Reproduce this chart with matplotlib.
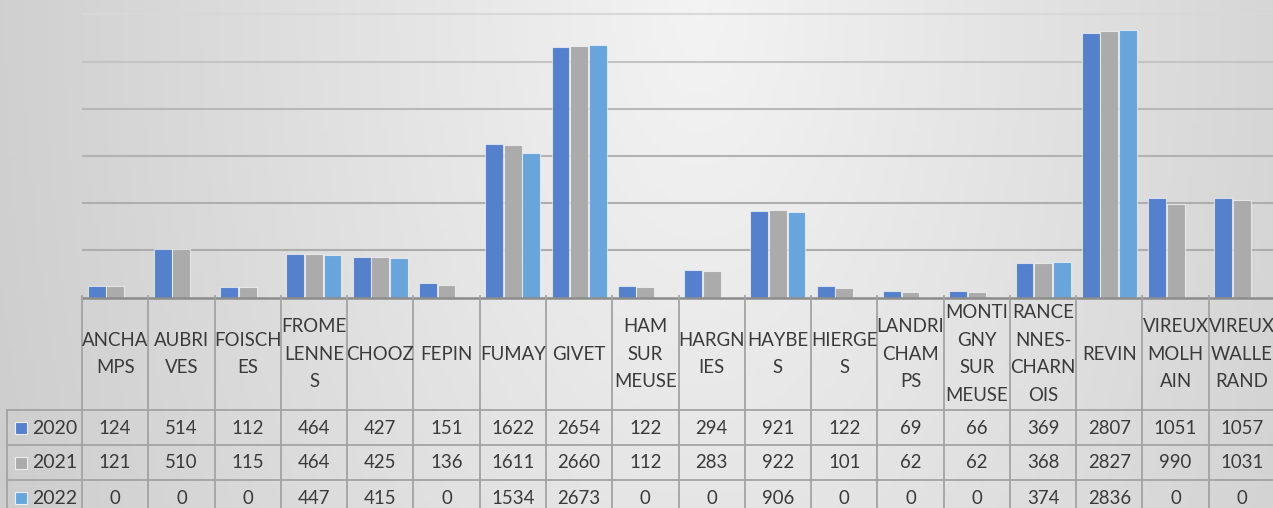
import numpy as np
import matplotlib
matplotlib.use("Agg")
import matplotlib.pyplot as plt

categories = ["ANCHA\nMPS", "AUBRI\nVES", "FOISCH\nES", "FROME\nLENNE\nS", "CHOOZ", "FEPIN",
              "FUMAY", "GIVET", "HAM\nSUR\nMEUSE", "HARGN\nIES", "HAYBE\nS", "HIERGE\nS",
              "LANDRI\nCHAM\nPS", "MONTI\nGNY\nSUR\nMEUSE", "RANCE\nNNES-\nCHARN\nOIS", "REVIN",
              "VIREUX\nMOLH\nAIN", "VIREUX\nWALLE\nRAND"]
series_names = ["2020", "2021", "2022"]
v2020 = [124, 514, 112, 464, 427, 151, 1622, 2654, 122, 294, 921, 122, 69, 66, 369, 2807, 1051, 1057]
v2021 = [121, 510, 115, 464, 425, 136, 1611, 2660, 112, 283, 922, 101, 62, 62, 368, 2827, 990, 1031]
v2022 = [0, 0, 0, 447, 415, 0, 1534, 2673, 0, 0, 906, 0, 0, 0, 374, 2836, 0, 0]
series = [v2020, v2021, v2022]
colors = ["#5580CC", "#ABABAB", "#69A4DB"]
grid_levels = [500, 1000, 1500, 2000, 2500, 3000]
grid_colors = ["#ADADAD", "#AEAEAE", "#B2B2B2", "#B8B8B8", "#C4C4C4", "#D8D8D8"]

W, H = 1273, 508
fig = plt.figure(figsize=(W / 100, H / 100), dpi=100)

# background gradient
bg = fig.add_axes([0, 0, 1, 1], zorder=-10)
xx, yy = np.meshgrid(np.linspace(0, W, 300), np.linspace(0, H, 120))
d = np.sqrt(((xx - 700) / 700) ** 2 + 0.15 * (yy / H) ** 2)
val = 0.955 - 0.14 * d
bg.imshow(np.dstack([val, val, val]), extent=[0, W, H, 0], aspect="auto")
bg.set_xlim(0, W)
bg.set_ylim(H, 0)
bg.axis("off")

# main bar axes
left_px, right_px = 82, 1275
zero_px, top_grid_px = 297.5, 14.3
ax = fig.add_axes([left_px / W, (H - zero_px) / H, (right_px - left_px) / W, zero_px / H])
ax.patch.set_alpha(0)
n = len(categories)
x = np.arange(n)
bw = 0.27
for k, (vals, c) in enumerate(zip(series, colors)):
    ax.bar(x + (k - 1) * 0.28, vals, width=bw, color=c, edgecolor=(1, 1, 1, 0.6),
           linewidth=0.8, zorder=3)
ax.set_xlim(-0.5, n - 0.5)
ax.set_ylim(0, 3000 * zero_px / (zero_px - top_grid_px))
for g, gc in zip(grid_levels, grid_colors):
    ax.axhline(g, color=gc, linewidth=1.5, zorder=1)
ax.tick_params(left=False, bottom=False, labelleft=False, labelbottom=False)
for s in ax.spines.values():
    s.set_visible(False)
ax.axhline(0, color="#8C8C8C", linewidth=1.8, zorder=4, clip_on=False)

# data table
ppc = (right_px - left_px) / n
tx = fig.add_axes([0, 0, 1, 1], zorder=5)
tx.patch.set_alpha(0)
tx.set_xlim(-0.5 - left_px / ppc, -0.5 + (W - left_px) / ppc)
tx.set_ylim(H, 0)
tx.axis("off")

line_c = "#A3A3A3"
txt_c = "#3A3A3A"
font = "Lato"
fs = 13.4
header_top, header_bot = 296, 410
row_h = 35
legend_left = -0.5 - (left_px - 7) / ppc

for i in range(n + 1):
    tx.plot([i - 0.5, i - 0.5], [header_top, H + 5], color=line_c, lw=1.3, clip_on=False)
tx.plot([legend_left, legend_left], [header_bot, H + 5], color=line_c, lw=1.3)
for r in range(3):
    y = header_bot + r * row_h
    tx.plot([legend_left, n + 1], [y, y], color=line_c, lw=1.3)

for i, cat in enumerate(categories):
    tx.text(i, (header_top + header_bot) / 2 + 1, cat, ha="center", va="center",
            fontsize=fs, family=font, color=txt_c, linespacing=1.78)

for r, (name, vals, c) in enumerate(zip(series_names, series, colors)):
    yc = header_bot + r * row_h + row_h / 2 + 0.5
    for i, v in enumerate(vals):
        tx.text(i, yc, str(v), ha="center", va="center", fontsize=fs, family=font, color=txt_c)
    tx.plot([-0.5 - (left_px - 21) / ppc], [yc], marker="s", markersize=8, color=c,
            markeredgecolor="#EEEEEE", markeredgewidth=0.8)
    tx.text(-0.5 - (left_px - 32) / ppc, yc, name, ha="left", va="center", fontsize=fs + 0.6,
            family=font, color=txt_c)

fig.savefig("out.png", dpi=100)
